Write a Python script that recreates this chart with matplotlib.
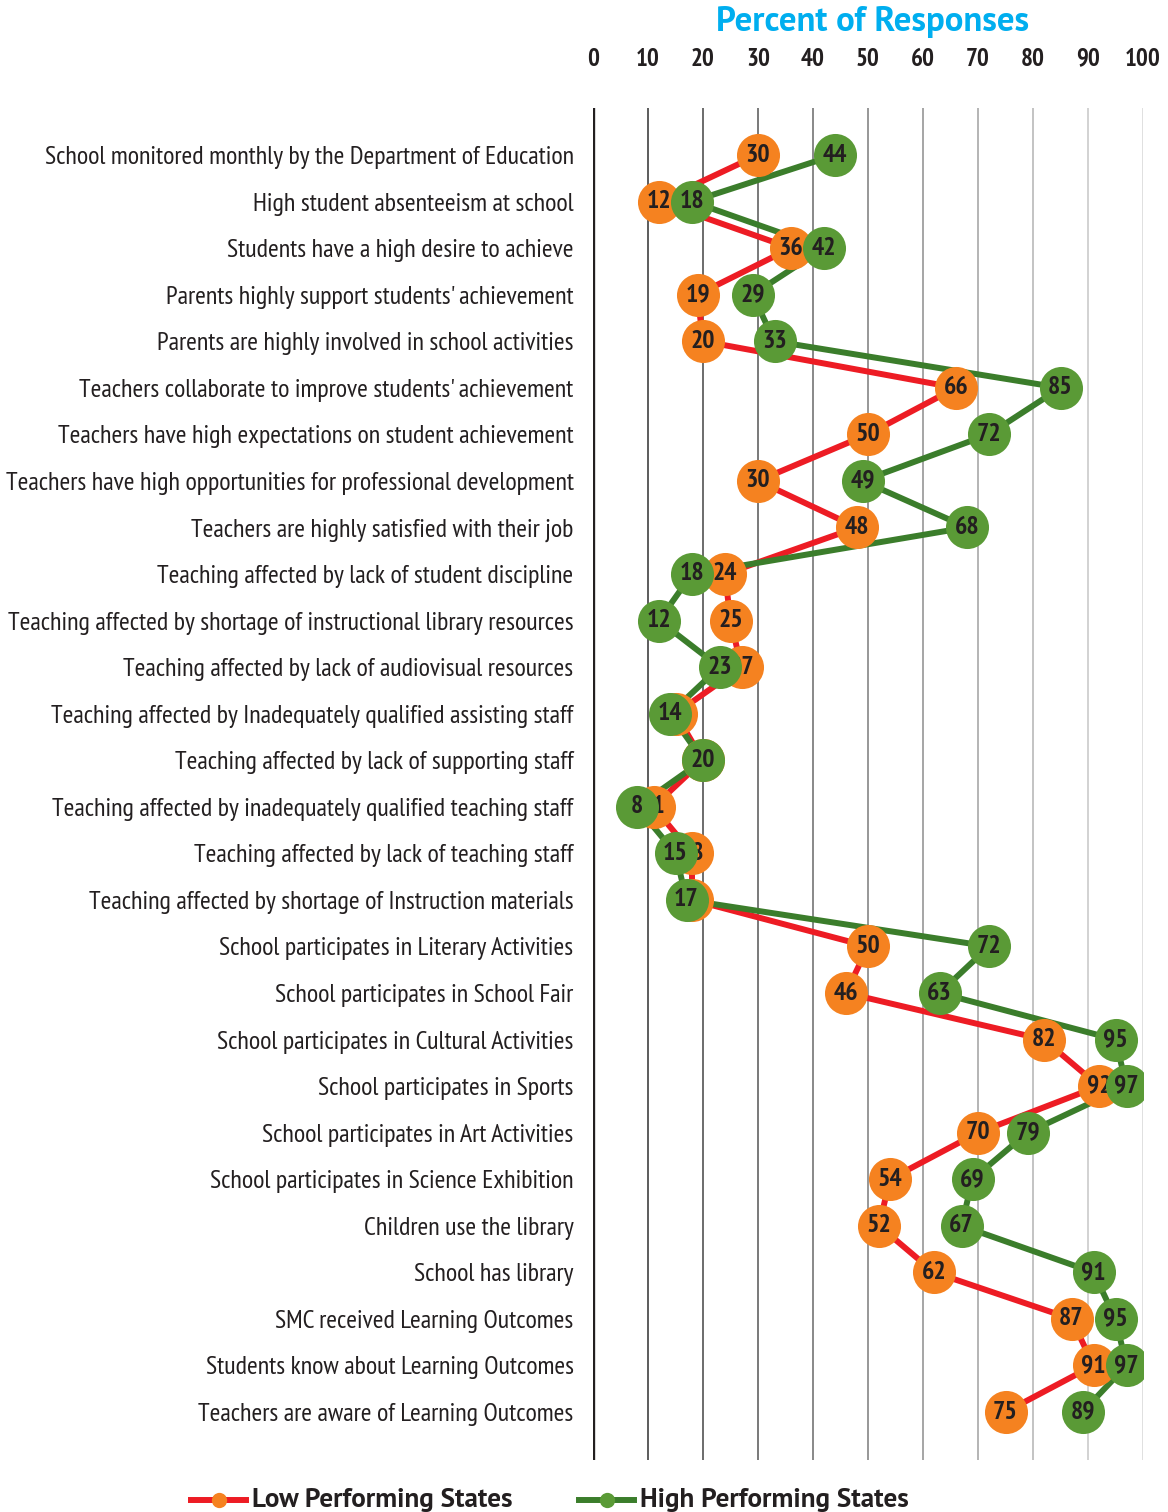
import matplotlib
matplotlib.use("Agg")
import matplotlib.pyplot as plt
from matplotlib.lines import Line2D
from matplotlib import font_manager

# Survey items and percent of responses for each group of states
categories = [
    "School monitored monthly by the Department of Education",
    "High student absenteeism at school",
    "Students have a high desire to achieve",
    "Parents highly support students' achievement",
    "Parents are highly involved in school activities",
    "Teachers collaborate to improve students' achievement",
    "Teachers have high expectations on student achievement",
    "Teachers have high opportunities for professional development",
    "Teachers are highly satisfied with their job",
    "Teaching affected by lack of student discipline",
    "Teaching affected by shortage of instructional library resources",
    "Teaching affected by lack of audiovisual resources",
    "Teaching affected by Inadequately qualified assisting staff",
    "Teaching affected by lack of supporting staff",
    "Teaching affected by inadequately qualified teaching staff",
    "Teaching affected by lack of teaching staff",
    "Teaching affected by shortage of Instruction materials",
    "School participates in Literary Activities",
    "School participates in School Fair",
    "School participates in Cultural Activities",
    "School participates in Sports",
    "School participates in Art Activities",
    "School participates in Science Exhibition",
    "Children use the library",
    "School has library",
    "SMC received Learning Outcomes",
    "Students know about Learning Outcomes",
    "Teachers are aware of Learning Outcomes",
]
low_performing = [30, 12, 36, 19, 20, 66, 50, 30, 48, 24, 25, 27, 15, 20,
                  11, 18, 18, 50, 46, 82, 92, 70, 54, 52, 62, 87, 91, 75]
high_performing = [44, 18, 42, 29, 33, 85, 72, 49, 68, 18, 12, 23, 14, 20,
                   8, 15, 17, 72, 63, 95, 97, 79, 69, 67, 91, 95, 97, 89]
x_ticks = [0, 10, 20, 30, 40, 50, 60, 70, 80, 90, 100]

# Narrow sans-serif family for labels, regular width for title and legend
available = {f.name for f in font_manager.fontManager.ttflist}
narrow = next((n for n in ["PT Sans Narrow", "Fira Sans Condensed", "Roboto Condensed"]
               if n in available), "DejaVu Sans")
wide = "PT Sans" if "PT Sans" in available else narrow
plt.rcParams["font.family"] = [narrow, "DejaVu Sans"]

RED = "#ED1C24"
ORANGE = "#F58220"
GREEN_LINE = "#3B7D2B"
GREEN_DOT = "#5A9A36"
INK = "#231F20"

W, H = 1168, 1512
fig = plt.figure(figsize=(W / 100, H / 100), dpi=100)
ax = fig.add_axes([593 / W, 1 - 1460 / H, 550 / W, (1460 - 108) / H])

rows = list(range(len(categories)))
row0, step = 155, (1412 - 155) / (len(categories) - 1)
ax.set_xlim(0, 100)
ax.set_ylim((1460 - row0) / step, -(row0 - 108) / step)

# Vertical grid, fading from dark on the left to light on the right
for i, t in enumerate(x_ticks):
    if t == 0:
        ax.axvline(t, color="#231F20", lw=2.4, zorder=1)
    else:
        g = 0.36 + 0.52 * (i - 1) / (len(x_ticks) - 2)
        ax.axvline(t, color=(g, g, g), lw=1.4, zorder=1)

ms = 31
ax.plot(low_performing, rows, color=RED, lw=4.3, zorder=2, solid_capstyle="round")
ax.plot(high_performing, rows, color=GREEN_LINE, lw=4.3, zorder=2, solid_capstyle="round")
ax.plot(low_performing, rows, "o", color=ORANGE, ms=ms, mec="none", zorder=3)
for v, r in zip(low_performing, rows):
    ax.text(v, r, f"{v}", ha="center", va="center", fontsize=18.5,
            fontweight="bold", color=INK, zorder=4)
ax.plot(high_performing, rows, "o", color=GREEN_DOT, ms=ms, mec="none", zorder=5)
for v, r in zip(high_performing, rows):
    ax.text(v, r, f"{v}", ha="center", va="center", fontsize=18.5,
            fontweight="bold", color=INK, zorder=6)

ax.set_yticks(rows)
ax.set_yticklabels(categories, fontsize=18.7, color=INK)
ax.tick_params(axis="y", length=0, pad=14)
ax.xaxis.tick_top()
ax.set_xticks(x_ticks)
ax.set_xticklabels([str(t) for t in x_ticks], fontsize=18, fontweight="bold", color=INK)
ax.tick_params(axis="x", length=0, pad=27)
for s in ax.spines.values():
    s.set_visible(False)
ax.set_facecolor("none")

fig.text(873 / W, 1 - 22 / H, "Percent of Responses", ha="center", va="center",
         fontsize=25, fontweight="bold", color="#00AEEF", family=[wide, "DejaVu Sans"])

# Legend drawn along the bottom edge
ly = 1 - 1500 / H
for x0, x1, lc, dc, label in [(191, 246, RED, ORANGE, "Low Performing States"),
                              (579, 634, GREEN_LINE, GREEN_DOT, "High Performing States")]:
    fig.add_artist(Line2D([x0 / W, x1 / W], [ly, ly], transform=fig.transFigure,
                          color=lc, lw=4.3))
    fig.add_artist(Line2D([(x0 + x1) / 2 / W], [ly], transform=fig.transFigure,
                          marker="o", ms=11, color=dc, mec="none"))
    fig.text((x1 + 6) / W, ly, label, ha="left", va="center", fontsize=19.5,
             fontweight="bold", color=INK, family=[wide, "DejaVu Sans"])

fig.savefig("out.png", dpi=100, facecolor="white")
